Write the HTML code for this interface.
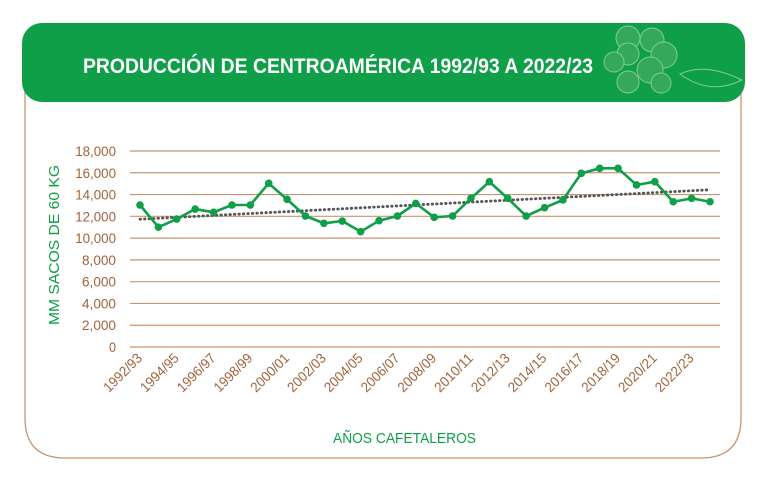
<!DOCTYPE html>
<html><head><meta charset="utf-8"><style>
body{margin:0;background:#fff;width:768px;height:483px;overflow:hidden;font-family:"Liberation Sans",sans-serif}
</style></head><body>
<svg width="768" height="483" viewBox="0 0 768 483">
<path d="M25,80 V418 Q25,458 65,458 H701 Q741,458 741,418 V80" fill="none" stroke="#c9946c" stroke-width="1.3"/>
<rect x="22" y="23" width="723" height="79" rx="20" fill="#0e9f48"/>
<text x="83" y="73" textLength="510" lengthAdjust="spacingAndGlyphs" fill="#fff" font-size="21" font-weight="bold">PRODUCCIÓN DE CENTROAMÉRICA 1992/93 A 2022/23</text>
<g fill="#3aab5c" stroke="#8fd19e" stroke-width="1" opacity="0.9">
<circle cx="628" cy="38" r="12"/><circle cx="652" cy="40" r="12"/><circle cx="628" cy="54" r="11"/><circle cx="664" cy="55" r="13"/><circle cx="614" cy="62" r="10"/><circle cx="650" cy="70" r="13"/><circle cx="628" cy="82" r="11"/><circle cx="661" cy="83" r="10"/>
<path d="M680,74 Q705,62 742,80 Q710,96 680,74 Z" fill="none"/>
</g>
<g id="grid"></g>
<g id="yticks"></g>
<g id="xticks"></g>
<g id="series"></g>
<text transform="translate(59,245) rotate(-90)" text-anchor="middle" textLength="160" lengthAdjust="spacingAndGlyphs" fill="#0e9f48" font-size="15">MM SACOS DE 60 KG</text>
<text x="333" y="443" textLength="143" lengthAdjust="spacingAndGlyphs" fill="#0e9f48" font-size="15">AÑOS CAFETALEROS</text>
</svg>
<script>
const NS='http://www.w3.org/2000/svg';
const yTicks=[0,2000,4000,6000,8000,10000,12000,14000,16000,18000];
const yTickLabels=['0','2,000','4,000','6,000','8,000','10,000','12,000','14,000','16,000','18,000'];
const xLabels=['1992/93','1994/95','1996/97','1998/99','2000/01','2002/03','2004/05','2006/07','2008/09','2010/11','2012/13','2014/15','2016/17','2018/19','2020/21','2022/23'];
const production=[13040,11000,11750,12670,12370,13040,13040,15030,13560,12030,11360,11570,10590,11600,12030,13190,11910,12030,13650,15180,13650,12030,12790,13500,15950,16410,16410,14880,15180,13340,13650,13340];
const X0=140,X1=710,Y0=347,Y1=151,YMAX=18000;
const n=production.length;
const x=i=>X0+(X1-X0)*i/(n-1);
const y=v=>Y0-(Y0-Y1)*v/YMAX;
function mk(t,a,p){const e=document.createElementNS(NS,t);for(const k in a)e.setAttribute(k,a[k]);p.appendChild(e);return e;}
const grid=document.getElementById('grid'),yt=document.getElementById('yticks'),xt=document.getElementById('xticks'),s=document.getElementById('series');
yTicks.forEach((v,i)=>{
 const l=mk('line',{x1:130,x2:720,y1:y(v),y2:y(v),stroke:'#c9946c','stroke-width':1.2},grid);
 
 
 const lab=yTickLabels[i];
 const w=lab.length===1?7:lab.length*6.8;
 const t=mk('text',{x:116-w,y:y(v)+5,textLength:w,lengthAdjust:'spacingAndGlyphs',fill:'#a0643c','font-size':14},yt);
 t.textContent=lab;
 
 
});
xLabels.forEach((lab,i)=>{
 const px=x(i*2)+3,py=359,L=48;
 const t=mk('text',{x:px-L,y:py,textLength:L,lengthAdjust:'spacingAndGlyphs',fill:'#a0643c','font-size':14,transform:`rotate(-45 ${px} ${py})`},xt);
 t.textContent=lab;
 
 
});
let sx=0,sy=0,sxy=0,sxx=0;
production.forEach((v,i)=>{sx+=i;sy+=v;sxy+=i*v;sxx+=i*i;});
const b=(n*sxy-sx*sy)/(n*sxx-sx*sx),a=(sy-b*sx)/n;
const tr=mk('line',{x1:x(0),y1:y(a)+1,x2:x(n-1),y2:y(a+b*(n-1))+1,stroke:'#555','stroke-width':2.8,'stroke-dasharray':'0.5 4','stroke-linecap':'round'},s);


const pl=mk('polyline',{points:production.map((v,i)=>x(i)+','+y(v)).join(' '),fill:'none',stroke:'#0e9f48','stroke-width':2.6,'stroke-linejoin':'round'},s);


production.forEach((v,i)=>{
 const c=mk('circle',{cx:x(i),cy:y(v),r:3.8,fill:'#0e9f48'},s);
 
 
});
</script>
</body></html>
